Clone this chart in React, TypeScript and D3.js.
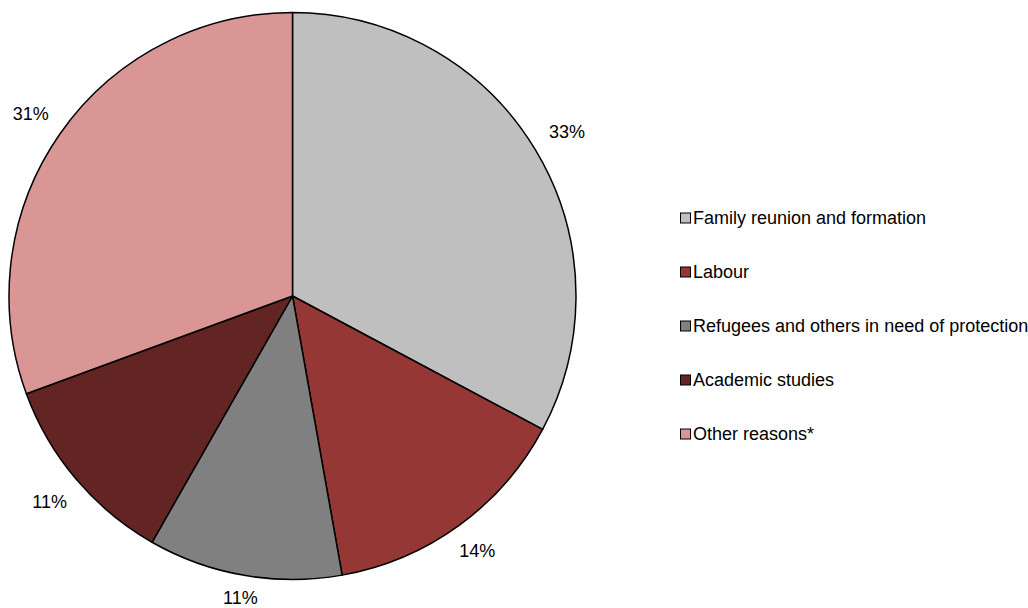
import * as React from 'react';
import * as d3 from 'd3';

// slice categories, clockwise from 12 o'clock
const categories = [
  'Family reunion and formation',
  'Labour',
  'Refugees and others in need of protection',
  'Academic studies',
  'Other reasons*',
];

// shares in percent
const shares = [32.8, 14.4, 11.05, 11.15, 30.6];

// label texts as printed on the chart
const shareLabels = ['33%', '14%', '11%', '11%', '31%'];

const sliceColors = ['#BFBFBF', '#953735', '#808080', '#632523', '#D99694'];

const width = 1028;
const height = 608;

const App = () => {
  const cx = 292.5;
  const cy = 296;
  const radius = 283.5;
  const fontSize = 18;

  const pie = d3.pie<number>()
    .sort(null)
    .value(d => d);
  const arcs = pie(shares);

  const arc = d3.arc<d3.PieArcDatum<number>>()
    .innerRadius(0)
    .outerRadius(radius);

  // labels sit just outside the rim, pushed further out the more sideways the slice points
  const labelPos = (a: d3.PieArcDatum<number>) => {
    const mid = (a.startAngle + a.endAngle) / 2;
    const dx = Math.sin(mid);
    const dy = -Math.cos(mid);
    const dist = radius + 18.5 + Math.abs(dx) * 21;
    return [dx * dist, dy * dist];
  };

  // legend rows
  const legendY = d3.scalePoint<string>()
    .domain(categories)
    .range([218, 434]);

  return (
    <svg
      width={width}
      height={height}
      style={{ position: 'absolute', left: 0, top: 0, background: '#fff' }}
      fontFamily="'Liberation Sans', Arial, sans-serif"
    >
      <g transform={`translate(${cx},${cy})`}>
        {arcs.map((a, i) => (
          <path
            key={categories[i]}
            d={arc(a) || ''}
            fill={sliceColors[i]}
            stroke="#000"
            strokeWidth={1.5}
            strokeLinejoin="round"
          />
        ))}
        {arcs.map((a, i) => {
          const [x, y] = labelPos(a);
          return (
            <text
              key={'l' + i}
              x={x}
              y={y}
              dy="0.36em"
              textAnchor="middle"
              fontSize={fontSize}
              fill="#000"
            >
              {shareLabels[i]}
            </text>
          );
        })}
      </g>
      <g>
        {categories.map((c, i) => (
          <g key={c} transform={`translate(680,${legendY(c)})`}>
            <rect x={0.5} y={-5} width={10} height={10} fill={sliceColors[i]} stroke="#000" strokeWidth={1} />
            <text x={13} y={0} dy="0.36em" fontSize={fontSize} fill="#000">
              {c}
            </text>
          </g>
        ))}
      </g>
    </svg>
  );
};

export default App;
